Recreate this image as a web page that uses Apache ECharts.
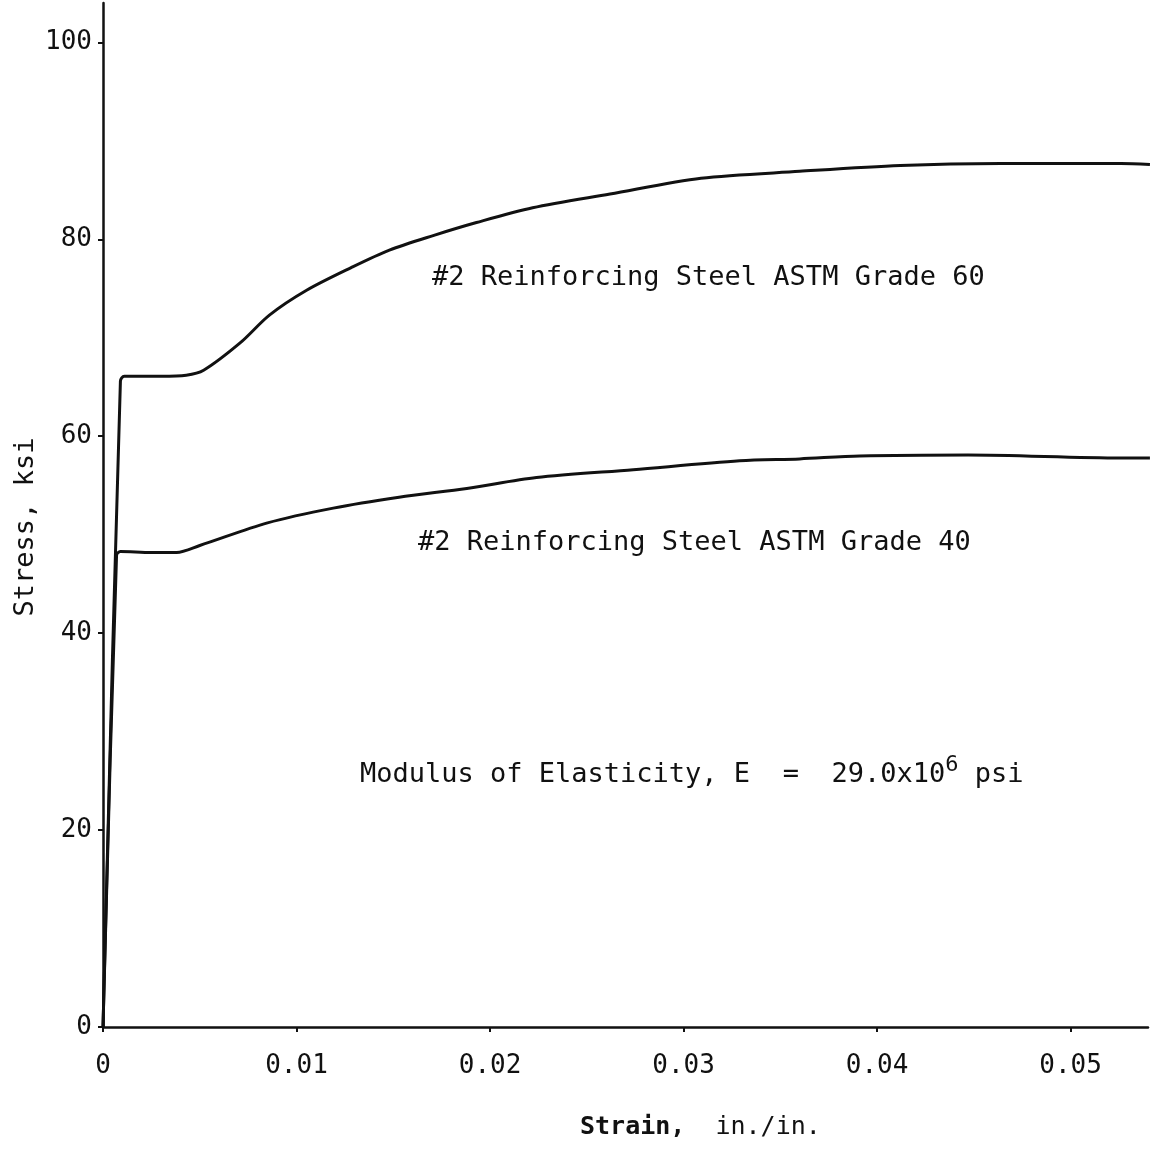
<!DOCTYPE html>
<html>
<head>
  <meta charset="UTF-8">
  <style>
    html, body { margin: 0; padding: 0; background: #fff; }
    #chart { width: 1152px; height: 1154px; }
  </style>
</head>
<body>
<div id="chart"></div>
<script type="text/javascript" src="https://cdn.jsdelivr.net/npm/echarts@6/dist/echarts.min.js"></script>
<script type="text/javascript">
  // strain (in./in.) and stress (ksi)
  var grade60Strain = [0, 0.0009, 0.0011, 0.0030, 0.0043, 0.0052, 0.0071, 0.0086, 0.0105, 0.0128, 0.0148, 0.0171, 0.0193, 0.0222, 0.0262, 0.0309, 0.0360, 0.0412, 0.0464, 0.0526, 0.0541];
  var grade60Stress = [0, 65.6, 66.1, 66.1, 66.2, 66.7, 69.5, 72.3, 74.8, 77.1, 78.9, 80.4, 81.7, 83.2, 84.6, 86.2, 86.9, 87.5, 87.7, 87.7, 87.6];
  var grade40Strain = [0, 0.0007, 0.0009, 0.0025, 0.0038, 0.0050, 0.0085, 0.0119, 0.0153, 0.0188, 0.0224, 0.0274, 0.0329, 0.0360, 0.0391, 0.0447, 0.0526, 0.0541];
  var grade40Stress = [0, 47.9, 48.3, 48.2, 48.2, 48.9, 51.2, 52.7, 53.8, 54.7, 55.8, 56.6, 57.5, 57.7, 58.0, 58.1, 57.8, 57.8];
  var xTicks = [0, 0.01, 0.02, 0.03, 0.04, 0.05];
  var yTicks = [0, 20, 40, 60, 80, 100];

  function pairs(xs, ys) {
    var out = [];
    for (var i = 0; i < xs.length; i++) out.push([xs[i], ys[i]]);
    return out;
  }

  var font = '"DejaVu Sans Mono", monospace';
  var ink = '#111';

  var myChart = echarts.init(document.getElementById('chart'));
  var option = {
    backgroundColor: '#fff',
    animation: false,
    grid: { left: 103, right: 4, top: 3, bottom: 127 },
    xAxis: {
      type: 'value', min: 0, max: 0.054,
      splitLine: { show: false },
      axisLine: { lineStyle: { color: ink, width: 2.5 } },
      axisTick: { customValues: xTicks, length: 5, lineStyle: { color: ink, width: 2 } },
      axisLabel: {
        customValues: xTicks, margin: 26, color: ink, fontFamily: font, fontSize: 26,
        formatter: function (v) { return v === 0 ? '0' : v.toFixed(2); }
      }
    },
    yAxis: {
      type: 'value', min: 0, max: 104,
      splitLine: { show: false },
      axisLine: { lineStyle: { color: ink, width: 2.5 } },
      axisTick: { customValues: yTicks, length: 5, lineStyle: { color: ink, width: 2 } },
      axisLabel: { customValues: yTicks, margin: 11, color: ink, fontFamily: font, fontSize: 26 }
    },
    series: [
      {
        name: 'Grade 60', type: 'line', data: pairs(grade60Strain, grade60Stress),
        showSymbol: false, smooth: 0.3,
        lineStyle: { color: ink, width: 3 }
      },
      {
        name: 'Grade 40', type: 'line', data: pairs(grade40Strain, grade40Stress),
        showSymbol: false, smooth: 0.3,
        lineStyle: { color: ink, width: 3 }
      }
    ],
    graphic: [
      { type: 'text', left: 432, top: 264, style: { text: '#2 Reinforcing Steel ASTM Grade 60', font: '27px ' + font, fill: ink } },
      { type: 'text', left: 418, top: 529, style: { text: '#2 Reinforcing Steel ASTM Grade 40', font: '27px ' + font, fill: ink } },
      {
        type: 'text', left: 360, top: 754,
        style: {
          text: '{a|Modulus of Elasticity, E  =  29.0x10}{s|6}{a| psi}',
          rich: {
            a: { font: '27px ' + font, fill: ink, verticalAlign: 'bottom', lineHeight: 34 },
            s: { font: '22px ' + font, fill: ink, verticalAlign: 'top', lineHeight: 34 }
          }
        }
      },
      {
        type: 'text', left: 580, top: 1115,
        style: {
          text: '{b|Strain,}{a|  in./in.}',
          rich: {
            b: { font: 'bold 25px ' + font, fill: ink },
            a: { font: '25px ' + font, fill: ink }
          }
        }
      },
      { type: 'text', x: 26, y: 527, rotation: Math.PI / 2, style: { text: 'Stress, ksi', font: '27px ' + font, fill: ink, align: 'center', verticalAlign: 'middle' } }
    ]
  };
  myChart.setOption(option);
</script>
</body>
</html>
